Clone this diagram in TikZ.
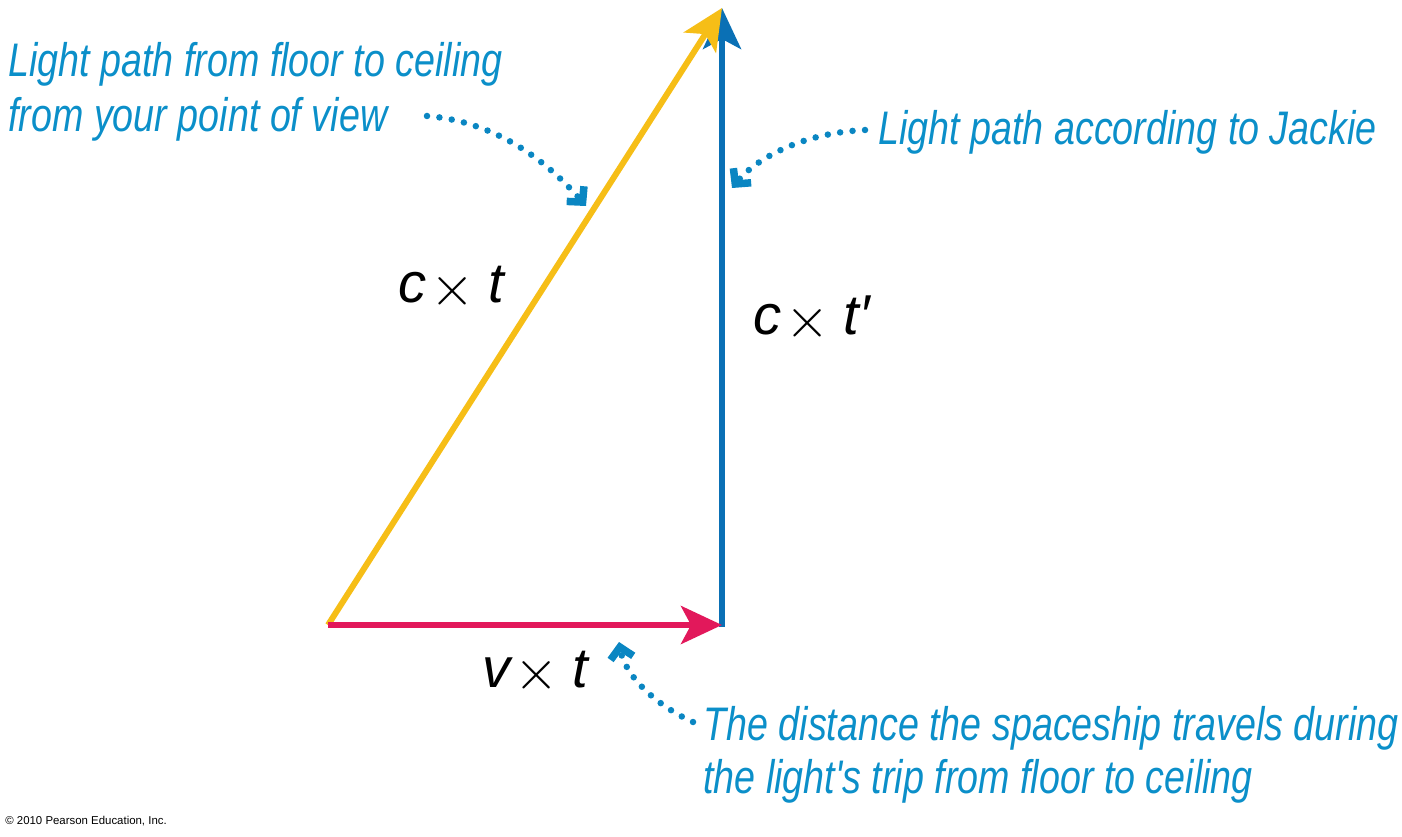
\documentclass[tikz,border=0pt]{standalone}
\usepackage{fontspec}
\usepackage{graphicx}
\setsansfont{Liberation Sans}
\newfontfamily\notefont{Liberation Sans}[FakeStretch=0.8]
\usetikzlibrary{arrows.meta}
\definecolor{pathyellow}{HTML}{F6BE17}
\definecolor{pathred}{HTML}{E2185B}
\definecolor{pathblue}{HTML}{0A70B5}
\definecolor{notecyan}{HTML}{0B8FC9}
\definecolor{dotcyan}{HTML}{0A86C2}
\newcommand\crosssign{\hspace{0.08em}\raisebox{-0.05em}{\scalebox{1.3}{$\times$}}\hspace{0.24em}}
\begin{document}
\begin{tikzpicture}[x=0.02cm,y=-0.02cm,
  path/.style={line width=0.12cm,-{Stealth[length=0.82cm,width=0.76cm,inset=0.2cm]}},
  dots/.style={dotcyan,line width=0.13cm,line cap=round,dash pattern=on 0pt off 0.25cm,
    -{Straight Barb[length=0.22cm,width=0.46cm,line width=0.15cm,line join=miter]}},
  note/.style={text=notecyan,font=\notefont\fontsize{26.8}{33}\selectfont\itshape,anchor=base west,inner sep=0pt},
  term/.style={font=\sffamily\fontsize{32}{38}\selectfont\itshape,anchor=base west,inner sep=0pt}]
\useasboundingbox (0,0) rectangle (1402,837);
\coordinate (start) at (328,625);
\coordinate (ship) at (722,625);
\coordinate (ceil) at (722,8);
\draw[path,pathblue,line cap=butt] ([yshift=-0.04cm]ship) -- (ceil);
\draw[path,pathyellow] (start) -- (ceil);
\draw[path,pathred] (start) -- (ship);

\node[term] (ct) at (398,303) {c\crosssign t};
\node[term] (ctp) at (753,335) {c\crosssign t′};
\node[term] (vt) at (482,687) {v\crosssign t};

\node[note] (view1) at (8,77) {Light path from floor to ceiling};
\node[note] (view2) at (8,132) {from your point of view};
\node[note] (jackie) at (878,145) {Light path according to Jackie};
\node[note] (dist1) at (703,740) {The distance the spaceship travels during};
\node[note] (dist2) at (703,793) {the light's trip from floor to ceiling};
\node[font=\sffamily\fontsize{6.5}{8}\selectfont,anchor=base west,inner sep=0pt] (copy) at (5,824) {© 2010 Pearson Education, Inc.};

\coordinate (viewA) at (427,116);
\coordinate (viewB) at (586,206);
\coordinate (jackieA) at (865,130);
\coordinate (jackieB) at (732,188);
\coordinate (distA) at (693,722);
\coordinate (distB) at (619,642);
\draw[dots] (viewA) .. controls (500,122) and (550,165) .. (viewB);
\draw[dots] (jackieA) .. controls (800,133) and (755,160) .. (jackieB);
\draw[dots] (distA) .. controls (655,705) and (625,675) .. (distB);
\end{tikzpicture}
\end{document}
